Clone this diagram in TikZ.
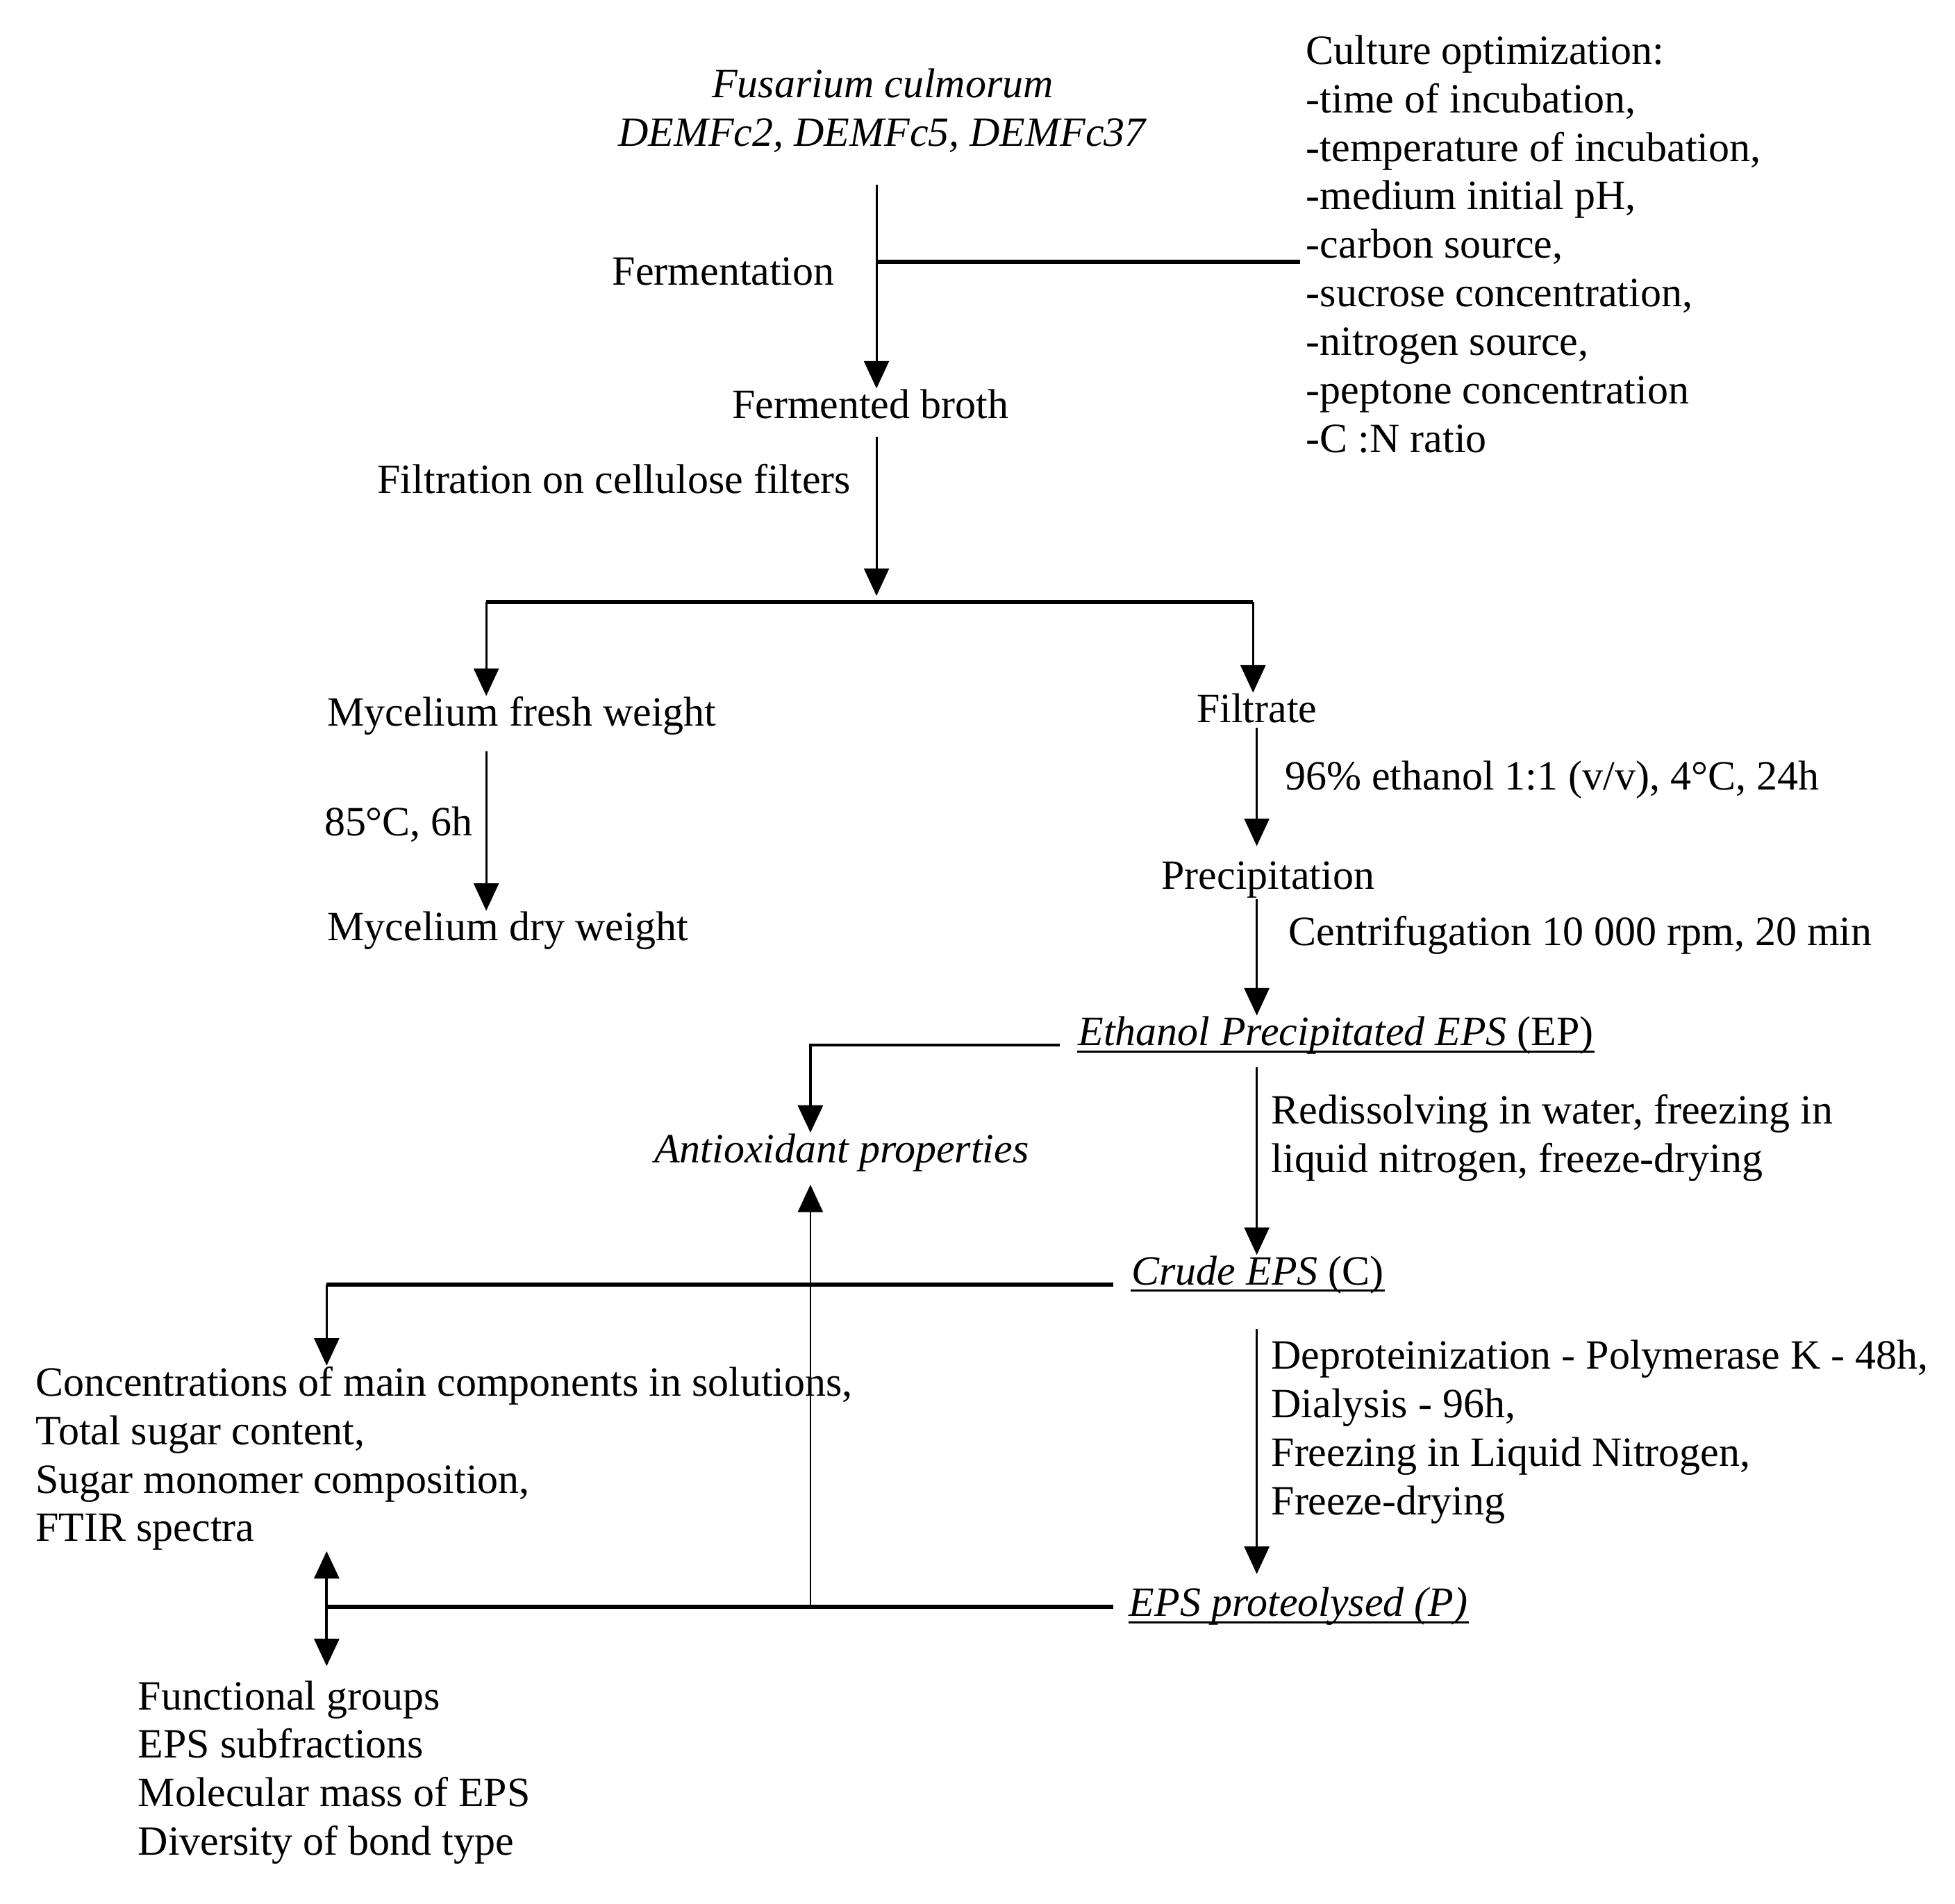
\documentclass[tikz,border=0pt]{standalone}
\usepackage{fontspec}
\setmainfont{Liberation Serif}
\usetikzlibrary{arrows.meta}
\usetikzlibrary{calc}

\begin{document}
\begin{tikzpicture}[x=0.01cm, y=-0.01cm,
    txt/.style={inner sep=0pt, yshift=-0.35mm, font=\fontsize{9.5}{11.07}\selectfont},
    lst/.style={txt, align=left, anchor=north west},
    arr/.style={-{Triangle[length=2.2mm,width=2mm]}, line width=0.45pt},
    bar/.style={line width=0.95pt},
    uline/.style={line width=0.45pt}]
     \useasboundingbox (0,0) rectangle (1568,1527);
     %nodes
     \node[txt, align=center, anchor=north] (fus) at (708,51) {\textit{Fusarium culmorum}\\\textit{DEMFc2, DEMFc5, DEMFc37}};
     \node[lst] (cult) at (1047,24) {Culture optimization:\\-time of incubation,\\-temperature of incubation,\\-medium initial pH,\\-carbon source,\\-sucrose concentration,\\-nitrogen source,\\-peptone concentration\\-C :N ratio};
     \node[txt, anchor=base east] (ferm) at (670,225) {Fermentation};
     \node[txt, anchor=base] (broth) at (698,332) {Fermented broth};
     \node[txt, anchor=base east] (filt) at (683,392) {Filtration on cellulose filters};
     \node[txt, anchor=base west] (fresh) at (262,579) {Mycelium fresh weight};
     \node[txt, anchor=base] (filtrate) at (1008,576) {Filtrate};
     \node[txt, anchor=base east] (heat) at (380,667) {85°C, 6h};
     \node[txt, anchor=base west] (dry) at (262,751) {Mycelium dry weight};
     \node[txt, anchor=base west] (etoh) at (1030,630) {96\% ethanol 1:1 (v/v), 4°C, 24h};
     \node[txt, anchor=base] (precip) at (1017,710) {Precipitation};
     \node[txt, anchor=base west] (centri) at (1033,755) {Centrifugation 10 000 rpm, 20 min};
     \node[txt, anchor=base west] (ep) at (864,835) {\textit{Ethanol Precipitated EPS} (EP)};
     \node[txt, anchor=base] (antiox) at (675,929) {\textit{Antioxidant properties}};
     \node[lst] (redis) at (1019,874) {Redissolving in water, freezing in\\liquid nitrogen, freeze-drying};
     \node[txt, anchor=base west] (crude) at (907,1027) {\textit{Crude EPS} (C)};
     \node[lst] (deprot) at (1019,1071) {Deproteinization - Polymerase K - 48h,\\Dialysis - 96h,\\Freezing in Liquid Nitrogen,\\Freeze-drying};
     \node[txt, anchor=base west] (prot) at (905,1293) {\textit{EPS proteolysed (P)}};
     \node[lst] (conc) at (28,1092) {Concentrations of main components in solutions,\\Total sugar content,\\Sugar monomer composition,\\FTIR spectra};
     \node[lst] (func) at (110,1344) {Functional groups\\EPS subfractions\\Molecular mass of EPS\\Diversity of bond type};

     %junctions
     \coordinate (jf) at (703,210);
     \coordinate (js) at (703,483);
     \coordinate (bl) at (390,483);
     \coordinate (br) at (1005,483);
     \coordinate (ant) at (650,838);
     \coordinate (mid) at (262,1289);

     %underlines
     \draw[uline] ([yshift=-1.4pt]ep.base west) -- ([yshift=-1.4pt]ep.base east);
     \draw[uline] ([yshift=-1.4pt]crude.base west) -- ([yshift=-1.4pt]crude.base east);
     \draw[uline] ([yshift=-1.4pt]prot.base west) -- ([yshift=-1.4pt]prot.base east);

     %main line
     \draw[arr, shorten <=2.5mm] (fus.south -| jf) -- (jf |- broth.north);
     \draw[bar, shorten >=0.4mm] (jf) -- (jf -| cult.west);
     \draw[arr, shorten <=1.4mm, shorten >=0.5mm] (jf |- broth.south) -- (js);
     \draw[bar] (bl) -- (br);
     \draw[arr] (bl) -- (bl |- fresh.north);
     \draw[arr] (br) -- (br |- filtrate.north);
     \draw[arr, shorten <=1.2mm] (bl |- fresh.south) -- (bl |- dry.north);
     \draw[arr, shorten <=0.3mm, shorten >=1.2mm] (filtrate.south) -- (filtrate |- precip.north);
     \draw[arr] (filtrate |- precip.south) -- (filtrate |- ep.north);
     \draw[arr, line width=0.6pt] ([xshift=-1.4mm]ep.base west) -| (ant |- antiox.north);
     \draw[arr, shorten <=1mm] (filtrate |- ep.south) -- (filtrate |- crude.north);
     \draw[bar] ([xshift=-1.4mm]crude.base west) -- (crude.base west -| mid);
     \draw[arr] (crude.base west -| mid) -- (mid |- conc.north);
     \draw[arr, shorten <=2.8mm, shorten >=1mm] (filtrate |- crude.south) -- (filtrate |- prot.north);
     \draw[bar] ([xshift=-1.2mm]prot.base west |- mid) -- (mid);
     \draw[arr, shorten >=1mm] (ant |- mid) -- (ant |- antiox.south);
     \draw[{Triangle[length=2.2mm,width=2mm]}-{Triangle[length=2.2mm,width=2mm]}, line width=0.65pt, shorten >=1.1mm] (mid |- conc.south) -- (mid |- func.north);
\end{tikzpicture}
\end{document}
